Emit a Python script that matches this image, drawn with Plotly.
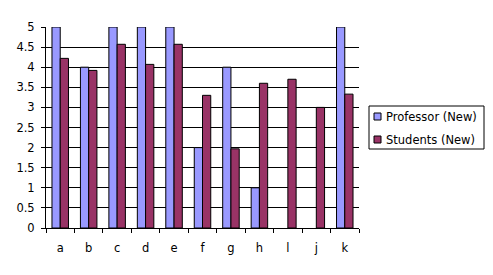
import plotly.graph_objects as go

categories = ["a", "b", "c", "d", "e", "f", "g", "h", "l", "j", "k"]
professor = [5, 4, 5, 5, 5, 2, 4, 1, 0, 0, 5]
students = [4.22, 3.92, 4.57, 4.07, 4.57, 3.30, 1.97, 3.60, 3.70, 3.0, 3.33]
series_names = ["Professor (New)", "Students (New)"]
series_colors = ["#9999FF", "#993366"]

W, H = 493, 275
L, R, T, B = 46, 134, 27, 47
PW, PH = W - L - R, H - T - B


def px_x(px):
    return (px - L) / PW


def px_y(py):
    return (H - B - py) / PH


FONT = "DejaVu Sans"

fig = go.Figure()
for name, color, vals in zip(series_names, series_colors, [professor, students]):
    fig.add_trace(go.Bar(
        x=categories, y=vals, name=name,
        marker=dict(color=color,
                    line=dict(color="black", width=[1 if v > 0 else 0 for v in vals]))))

shapes = [dict(type="rect", xref="paper", yref="paper",
               x0=px_x(369), x1=px_x(484), y0=px_y(149), y1=px_y(106),
               line=dict(color="black", width=1), fillcolor="white")]
annotations = []
for i, (name, color) in enumerate(zip(series_names, series_colors)):
    cy = 116.5 + 23 * i
    shapes.append(dict(type="rect", xref="paper", yref="paper",
                       x0=px_x(374), x1=px_x(381), y0=px_y(cy + 3.5), y1=px_y(cy - 3.5),
                       line=dict(color="black", width=1), fillcolor=color))
    annotations.append(dict(xref="paper", yref="paper", x=px_x(384), y=px_y(cy),
                            xanchor="left", yanchor="middle", text=name, showarrow=False,
                            font=dict(family=FONT, size=11.5, color="black")))

fig.update_layout(
    width=W, height=H,
    margin=dict(l=L, r=R, t=T, b=B),
    paper_bgcolor="white", plot_bgcolor="white",
    font=dict(family=FONT, size=11.5, color="black"),
    barmode="group", bargap=0.42, bargroupgap=0,
    showlegend=False,
    shapes=shapes, annotations=annotations,
)
fig.update_xaxes(type="category", showline=True, linecolor="black", linewidth=1,
                 ticks="outside", ticklen=4, tickcolor="black", tickson="boundaries",
                 showgrid=False, ticklabelstandoff=9)
fig.update_yaxes(range=[0, 5], dtick=0.5, showline=True, linecolor="black", linewidth=1,
                 ticks="outside", ticklen=4, tickcolor="black", ticklabelstandoff=4,
                 showgrid=True, gridcolor="black", gridwidth=1, zeroline=False)

fig.write_html("out.html")
